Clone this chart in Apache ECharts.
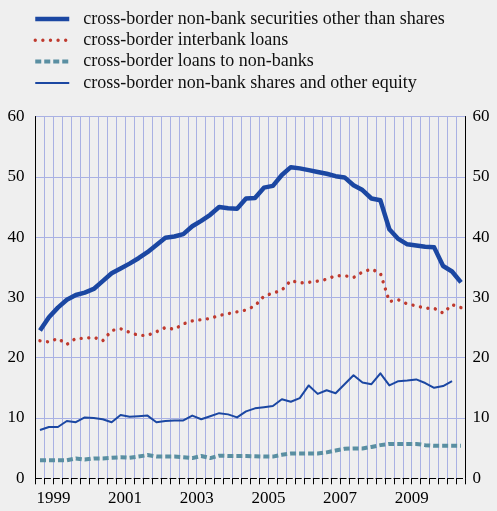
<!DOCTYPE html>
<html><head><meta charset="utf-8">
<script src="https://cdn.jsdelivr.net/npm/echarts@6/dist/echarts.min.js"></script>
<style>html,body{margin:0;padding:0;background:#efefef;}#c{width:497px;height:511px;}</style>
</head><body><div id="c"></div>
<script>
// ---- data ----
const quarters = [
  '1999 Q1','1999 Q2','1999 Q3','1999 Q4','2000 Q1','2000 Q2','2000 Q3','2000 Q4',
  '2001 Q1','2001 Q2','2001 Q3','2001 Q4','2002 Q1','2002 Q2','2002 Q3','2002 Q4',
  '2003 Q1','2003 Q2','2003 Q3','2003 Q4','2004 Q1','2004 Q2','2004 Q3','2004 Q4',
  '2005 Q1','2005 Q2','2005 Q3','2005 Q4','2006 Q1','2006 Q2','2006 Q3','2006 Q4',
  '2007 Q1','2007 Q2','2007 Q3','2007 Q4','2008 Q1','2008 Q2','2008 Q3','2008 Q4',
  '2009 Q1','2009 Q2','2009 Q3','2009 Q4','2010 Q1','2010 Q2','2010 Q3','2010 Q4'
];
const yearLabels = ['1999','2001','2003','2005','2007','2009'];
const seriesNames = [
  'cross-border non-bank securities other than shares',
  'cross-border interbank loans',
  'cross-border loans to non-banks',
  'cross-border non-bank shares and other equity'
];
const securities = [24.5,26.7,28.3,29.6,30.4,30.8,31.4,32.7,34.0,34.8,
  35.6,36.5,37.5,38.7,39.9,40.1,40.5,41.8,42.7,43.7,
  45.0,44.8,44.7,46.4,46.5,48.2,48.5,50.3,51.6,51.4,
  51.1,50.8,50.5,50.1,49.9,48.6,47.8,46.4,46.1,41.3,
  39.7,38.8,38.6,38.4,38.3,35.2,34.3,32.5];
const interbank = [22.8,22.6,23.2,22.2,23.2,23.2,23.4,22.8,24.5,24.8,
  24.2,23.7,23.7,24.3,25.0,24.7,25.6,26.1,26.3,26.5,
  27.0,27.3,27.6,27.9,28.6,30.2,30.7,31.2,32.8,32.4,
  32.5,32.7,33.0,33.6,33.6,33.3,34.2,34.7,34.0,29.3,
  29.6,28.9,28.6,28.2,28.2,27.4,28.8,28.3];
const loansNonBanks = [3.0,3.0,3.0,3.0,3.3,3.1,3.3,3.3,3.4,3.5,
  3.4,3.6,3.85,3.6,3.6,3.6,3.5,3.35,3.7,3.35,
  3.75,3.7,3.7,3.7,3.65,3.6,3.6,3.9,4.1,4.1,
  4.1,4.1,4.3,4.6,4.9,4.95,4.95,5.2,5.5,5.7,
  5.7,5.7,5.7,5.5,5.4,5.4,5.4,5.4];
const sharesEquity = [8.0,8.5,8.5,9.5,9.3,10.1,10.0,9.8,9.3,10.5,
  10.2,10.3,10.4,9.3,9.5,9.6,9.6,10.4,9.8,10.3,
  10.8,10.6,10.1,11.1,11.6,11.8,12.0,13.1,12.7,13.3,
  15.4,14.0,14.6,14.1,15.6,17.1,15.9,15.6,17.4,15.4,
  16.1,16.2,16.4,15.8,15.0,15.3,16.1,null];

// ---- styling ----
const FONT = '"Liberation Serif","Times New Roman",serif';
const BLUE = '#1b47a2', RED = '#bf3a2e', TEAL = '#5a8fa2', GRID = '#a9b1e3';
const lineStyles = [
  {color: BLUE, width: 4.5, type: 'solid', cap: 'butt', join: 'round'},
  {color: RED, width: 3.4, type: [0.01, 7.6], cap: 'round'},
  {color: TEAL, width: 4, type: [6, 3], cap: 'butt'},
  {color: BLUE, width: 2, type: 'solid', cap: 'butt', join: 'round'}
];
const seriesData = [securities, interbank, loansNonBanks, sharesEquity];

const chart = echarts.init(document.getElementById('c'), null, {renderer: 'canvas'});
const yAxisCommon = {
  type: 'value', min: 0, max: 60, interval: 10,
  axisLine: {show: true, lineStyle: {color: '#000', width: 1}},
  axisTick: {show: false}
};
chart.setOption({
  animation: false,
  backgroundColor: '#efefef',
  legend: {
    orient: 'vertical', left: 28, top: 5,
    itemWidth: 34, itemHeight: 16, itemGap: 3.3,
    selectedMode: false,
    textStyle: {fontFamily: FONT, fontSize: 18, color: '#111', padding: [0, 0, 0, 9], lineHeight: 16},
    data: seriesNames.map((n, i) => ({name: n, itemStyle: {opacity: 0}, lineStyle: Object.assign({}, lineStyles[i])}))
  },
  grid: {left: 35.5, right: 31.5, top: 116.5, bottom: 32.7, containLabel: false},
  xAxis: {
    type: 'category', data: quarters, boundaryGap: true, offset: 2,
    axisLine: {show: true, lineStyle: {color: '#000', width: 1, type: [6, 2.96]}},
    axisTick: {show: true, interval: 0, length: 6, lineStyle: {color: '#000', width: 1}},
    axisLabel: {
      interval: (idx, val) => val.endsWith('Q2') && yearLabels.indexOf(val.slice(0, 4)) >= 0,
      formatter: v => v.slice(0, 4),
      fontFamily: FONT, fontSize: 17, color: '#000', margin: 10, padding: [0, 0, 0, 9]
    },
    splitLine: {show: true, interval: 0, lineStyle: {color: GRID, width: 1}}
  },
  yAxis: [
    Object.assign({}, yAxisCommon, {
      position: 'left',
      axisLabel: {fontFamily: FONT, fontSize: 17, color: '#000', margin: 11},
      splitLine: {show: true, showMinLine: false, lineStyle: {color: GRID, width: 1}}
    }),
    Object.assign({}, yAxisCommon, {
      position: 'right',
      axisLabel: {fontFamily: FONT, fontSize: 17, color: '#000', margin: 7},
      splitLine: {show: false}
    })
  ],
  series: seriesNames.map((n, i) => ({
    name: n, type: 'line', data: seriesData[i], symbol: 'none', showSymbol: false,
    color: lineStyles[i].color,
    lineStyle: lineStyles[i], connectNulls: false, z: [5, 3, 2, 4][i]
  }))
});
</script>
</body></html>
